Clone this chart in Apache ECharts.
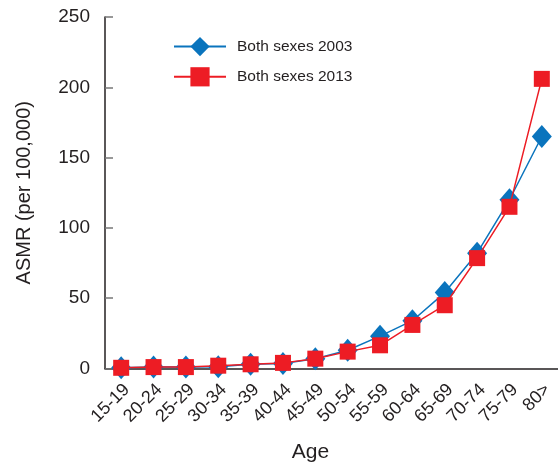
<!DOCTYPE html>
<html>
<head>
<meta charset="utf-8">
<script src="https://cdn.jsdelivr.net/npm/echarts@6/dist/echarts.min.js"></script>
<style>
  html, body { margin: 0; padding: 0; background: #fff; }
  #chart { width: 558px; height: 467px; }
</style>
</head>
<body>
<div id="chart"></div>
<script>
// Age-specific mortality rate by age group
const ageGroups = ['15-19', '20-24', '25-29', '30-34', '35-39', '40-44', '45-49',
                   '50-54', '55-59', '60-64', '65-69', '70-74', '75-79', '80>'];
const both2003 = [0.5, 1, 1, 1.3, 3, 3.5, 7, 13, 23, 34, 54, 82, 120, 165];
const both2013 = [0.5, 1, 1, 2, 3, 4, 7, 12, 16.5, 31, 45, 78.5, 115, 206];
const yTicks = [0, 50, 100, 150, 200, 250];

const textColor = '#231f20';
const font = 'Liberation Sans, Arial, sans-serif';

const chart = echarts.init(document.getElementById('chart'));
chart.setOption({
  animation: false,
  textStyle: { fontFamily: font, color: textColor },
  grid: {
    left: 105, right: 0, top: 17, bottom: 98.5,
    containLabel: false,
    outerBoundsMode: 'none'
  },
  legend: {
    orient: 'vertical',
    left: 168,
    top: 32,
    itemWidth: 52,
    itemHeight: 24,
    itemGap: 11,
    textStyle: { fontSize: 15.5, color: textColor, fontFamily: font, padding: [0, 0, 0, 6] },
    data: ['Both sexes 2003', 'Both sexes 2013']
  },
  xAxis: {
    type: 'category',
    data: ageGroups,
    boundaryGap: true,
    name: 'Age',
    nameLocation: 'middle',
    nameGap: 73,
    nameTextStyle: { fontSize: 21, color: textColor, fontFamily: font, padding: [0, 42, 0, 0] },
    axisLine: { lineStyle: { color: '#231f20', width: 1.5 } },
    axisTick: { inside: true, length: 8, lineStyle: { color: '#777', width: 1.5 } },
    axisLabel: { rotate: 45, fontSize: 18, color: textColor, margin: 24, padding: [0, -8, 0, 0], interval: 0 }
  },
  yAxis: {
    type: 'value',
    min: yTicks[0],
    max: yTicks[yTicks.length - 1],
    interval: 50,
    name: 'ASMR (per 100,000)',
    nameLocation: 'middle',
    nameGap: 71,
    nameTextStyle: { fontSize: 20, color: textColor, fontFamily: font },
    splitLine: { show: false },
    axisLine: { show: true, lineStyle: { color: '#231f20', width: 1.5 } },
    axisTick: { show: true, inside: true, length: 8, lineStyle: { color: '#777', width: 1.5 } },
    axisLabel: { fontSize: 19, color: textColor, margin: 15 }
  },
  series: [
    {
      name: 'Both sexes 2003',
      type: 'line',
      data: both2003,
      symbol: 'diamond',
      symbolSize: [20, 23],
      lineStyle: { color: '#0a74bd', width: 1.5 },
      itemStyle: { color: '#0a74bd' },
      z: 2
    },
    {
      name: 'Both sexes 2013',
      type: 'line',
      data: both2013,
      symbol: 'rect',
      symbolSize: 16,
      lineStyle: { color: '#ed1c24', width: 1.5 },
      itemStyle: { color: '#ed1c24' },
      z: 3
    }
  ]
});
</script>
</body>
</html>
